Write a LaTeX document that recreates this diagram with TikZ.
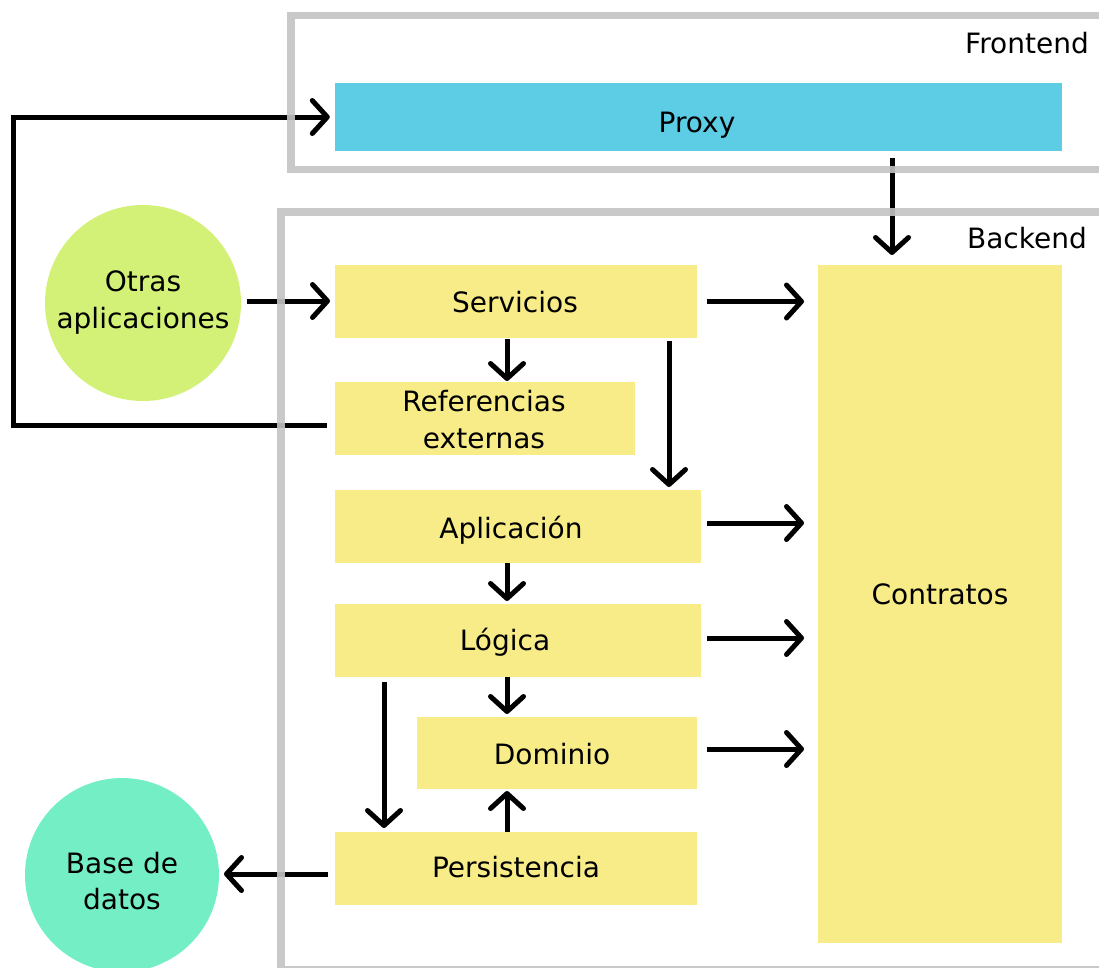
\documentclass[tikz,border=0pt]{standalone}
\usepackage{fontspec}
\setmainfont{DejaVu Sans}
\usetikzlibrary{arrows.meta,calc}
\definecolor{boxyellow}{HTML}{F8EC88}
\definecolor{proxyblue}{HTML}{5DCCE5}
\definecolor{othergreen}{HTML}{D3F176}
\definecolor{dbgreen}{HTML}{74EFC5}
\definecolor{framegray}{HTML}{C3C3C3}

\begin{document}
\begin{tikzpicture}[x=1pt,y=-1pt,
  layerbox/.style={fill=boxyellow, inner sep=0pt, outer sep=0pt},
  bubble/.style={circle, inner sep=0pt, outer sep=0pt},
  lbl/.style={font=\fontsize{28}{36.5}\selectfont, inner sep=0pt, align=center},
  arr/.style={line width=5pt, -{Straight Barb[length=15pt,width=33pt,round]}},
  frame/.style={draw=framegray, line width=7.5pt, opacity=0.9},
]
\useasboundingbox (0,0) rectangle (1099,967);

% ---- boxes ----
\node[fill=proxyblue, inner sep=0pt, minimum width=727pt, minimum height=68pt] (proxy) at (698.5,117) {};
\node[layerbox, minimum width=362pt, minimum height=73pt] (serv)  at (516,301.5) {};
\node[layerbox, minimum width=300pt, minimum height=73pt] (ref)   at (485,418.5) {};
\node[layerbox, minimum width=366pt, minimum height=73pt] (apl)   at (518,526.5) {};
\node[layerbox, minimum width=366pt, minimum height=73pt] (log)   at (518,640.5) {};
\node[layerbox, minimum width=280pt, minimum height=72pt] (dom)   at (557,753) {};
\node[layerbox, minimum width=362pt, minimum height=73pt] (pers)  at (516,868.5) {};
\node[layerbox, minimum width=244pt, minimum height=678pt] (contr) at (940,604) {};

% ---- external systems ----
\node[bubble, fill=othergreen, minimum size=196pt] (otras) at (143,303) {};
\node[bubble, fill=dbgreen, minimum size=194pt] (db) at (122,875) {};

% ---- labels ----
\node[lbl, anchor=base] (proxyT) at (697,132) {Proxy};
\node[lbl, anchor=base] (servT)  at (515,312) {Servicios};
\node[lbl] (refT) at (484,419.75) {Referencias\\externas};
\node[lbl, anchor=base] (aplT)   at (511,538) {Aplicación};
\node[lbl, anchor=base] (logT)   at (505,650) {Lógica};
\node[lbl, anchor=base] (domT)   at (552,764) {Dominio};
\node[lbl, anchor=base] (persT)  at (516,877) {Persistencia};
\node[lbl, anchor=base] (contrT) at (940,604) {Contratos};
\node[lbl] (otrasT) at (143,302.3) {Otras\\aplicaciones};
\node[lbl] (dbT) at (122,881) {Base de\\datos};
\node[lbl, anchor=base east] (feT) at (1089,53) {Frontend};
\node[lbl, anchor=base east] (beT) at (1087,248) {Backend};

% ---- connector lanes ----
\coordinate (xMid)   at (507,0);
\coordinate (xSide)  at (669,0);
\coordinate (xLeft)  at (384,0);
\coordinate (xProxy) at (892,0);
\coordinate (xLoop)  at (13,0);
\coordinate (yApl)   at (0,523);
\coordinate (yLog)   at (0,638);
\coordinate (yDom)   at (0,749);
\coordinate (yOtras) at (0,301);
\coordinate (yDb)    at (0,874);
\coordinate (yLoop)  at (0,425);
\coordinate (yTop)   at (0,117);

% ---- connectors ----
\draw[arr, shorten <=10pt, shorten >=14pt] (serv.east) -- (serv.east -| contr.west);
\draw[arr, shorten <=6pt,  shorten >=14pt] (apl.east |- yApl) -- (contr.west |- yApl);
\draw[arr, shorten <=6pt,  shorten >=14pt] (log.east |- yLog) -- (contr.west |- yLog);
\draw[arr, shorten <=10pt, shorten >=14pt] (dom.east |- yDom) -- (contr.west |- yDom);
\draw[arr, shorten <=1pt,  shorten >=1pt]  (serv.south -| xMid) -- (ref.north -| xMid);
\draw[arr, shorten <=3pt,  shorten >=3pt]  (serv.south -| xSide) -- (apl.north -| xSide);
\draw[arr, shorten >=3pt] (apl.south -| xMid) -- (log.north -| xMid);
\draw[arr, shorten >=3pt] (log.south -| xMid) -- (dom.north -| xMid);
\draw[arr, shorten <=5pt, shorten >=4pt] (log.south -| xLeft) -- (pers.north -| xLeft);
\draw[arr, shorten >=2pt] (pers.north -| xMid) -- (dom.south -| xMid);
\draw[arr, shorten <=7pt, shorten >=10pt] (proxy.south -| xProxy) -- (contr.north -| xProxy);
\draw[arr, shorten <=7pt, shorten >=5pt] (pers.west |- yDb) -- (db.east |- yDb);
\draw[arr, shorten <=6pt, shorten >=5pt] (otras.east |- yOtras) -- (serv.west |- yOtras);
\draw[arr, shorten <=8pt, shorten >=5pt] (ref.west |- yLoop) -- (xLoop |- yLoop) -- (xLoop |- yTop) -- (proxy.west |- yTop);

% ---- tier frames ----
\draw[frame] (291,15.5) rectangle (1103.5,169.5);
\draw[frame] (281,212) rectangle (1103.5,969.5);
\end{tikzpicture}
\end{document}
